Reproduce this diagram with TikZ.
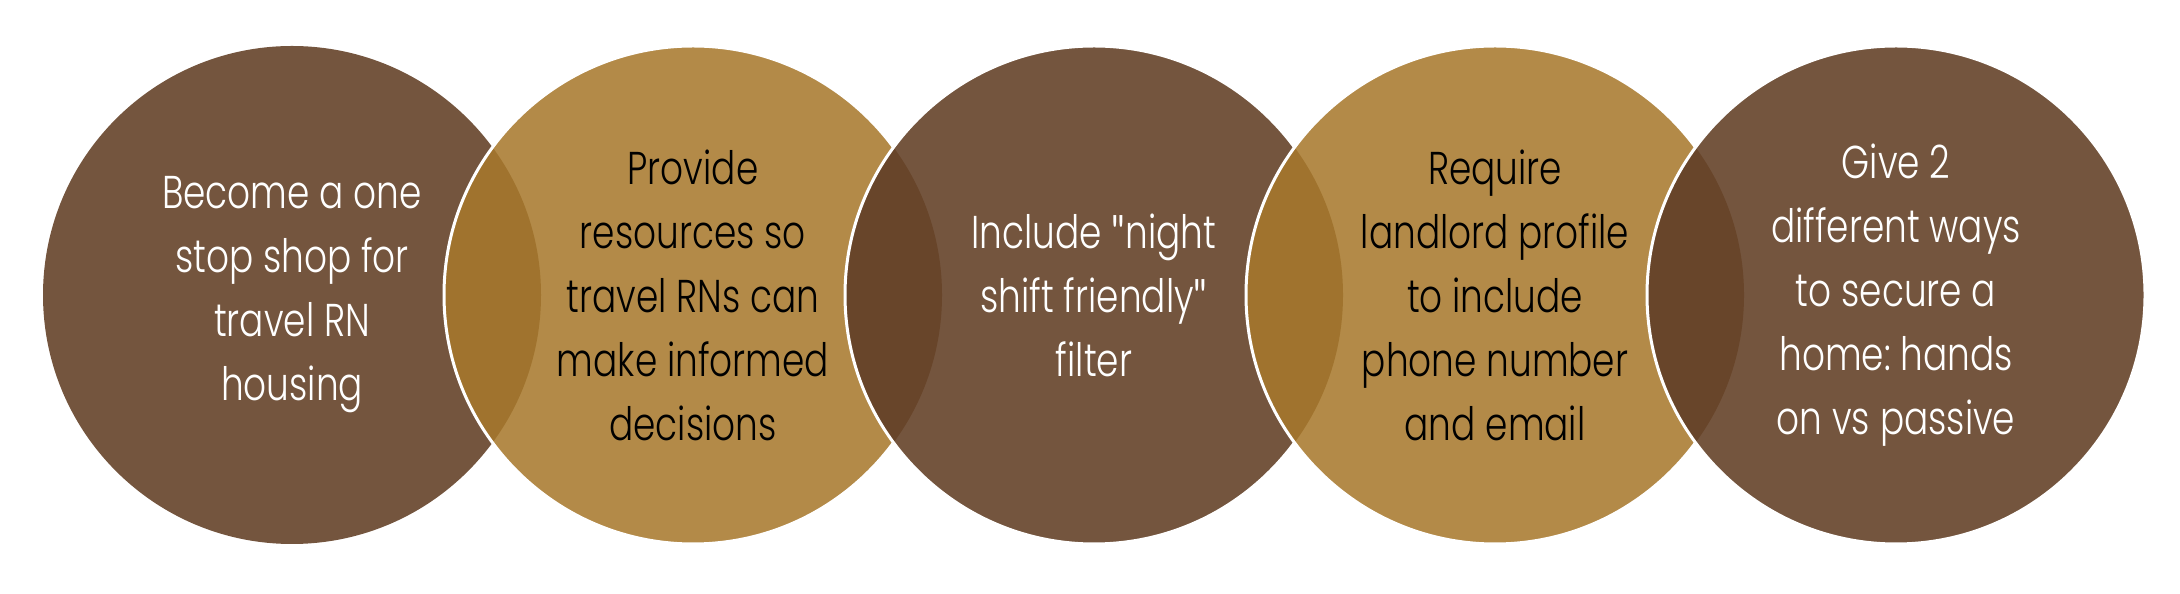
\documentclass[tikz,border=0pt]{standalone}
\usepackage{fontspec}
\setmainfont{Poppins}[FakeStretch=0.78, UprightFont=* Light]
\newfontfamily\quotefont{Lato}[FakeStretch=0.8]
\newcommand{\sq}{{\quotefont"}}
\definecolor{cbrown}{HTML}{74553E}
\definecolor{cgold}{HTML}{B38A48}
\definecolor{ovgold}{HTML}{A0732E}
\definecolor{ovbrown}{HTML}{68452A}
\tikzset{
  disc/.style={circle, minimum size=498pt, inner sep=0pt, outer sep=0pt},
  brownd/.style={disc, fill=cbrown},
  goldd/.style={disc, fill=cgold},
  rim/.style={draw=white, line width=3pt},
  lbl/.style={align=center, font=\fontsize{46}{64}\selectfont\frenchspacing},
  lblw/.style={lbl, text=white},
  lblk/.style={lbl, text=black},
}
\begin{document}
\begin{tikzpicture}[x=1pt,y=1pt]
\useasboundingbox (0,0) rectangle (2180,594);
% circle 1
\node[brownd] (c1) at (292,299) {};
% circle 2
\node[goldd] (c2) at (693,299) {};
\begin{scope}
  \clip (c1.center) circle (249);
  \fill[ovgold] (c2.center) circle (249);
\end{scope}
\draw[rim] (c2.center) circle (249);
% circle 3
\node[brownd] (c3) at (1094,299) {};
\begin{scope}
  \clip (c2.center) circle (249);
  \fill[ovbrown] (c3.center) circle (249);
\end{scope}
\draw[rim] (c3.center) circle (249);
% circle 4
\node[goldd] (c4) at (1495,299) {};
\begin{scope}
  \clip (c3.center) circle (249);
  \fill[ovgold] (c4.center) circle (249);
\end{scope}
\draw[rim] (c4.center) circle (249);
% circle 5
\node[brownd] (c5) at (1896,299) {};
\begin{scope}
  \clip (c4.center) circle (249);
  \fill[ovbrown] (c5.center) circle (249);
\end{scope}
\draw[rim] (c5.center) circle (249);
% labels
\node[lblw] (t1) at (c1.center) {Become a one\\stop shop for\\travel RN\\housing};
\node[lblk] (t2) at (c2.center) {Provide\\resources so\\travel RNs can\\make informed\\decisions};
\node[lblw] (t3) at (c3.center) {Include \sq night\\shift friendly\sq\\filter};
\node[lblk] (t4) at (c4.center) {Require\\landlord profile\\to include\\phone number\\and email};
\node[lblw] (t5) at (c5.center) {Give 2\\different ways\\to secure a\\home: hands\\on vs passive};
\end{tikzpicture}
\end{document}
